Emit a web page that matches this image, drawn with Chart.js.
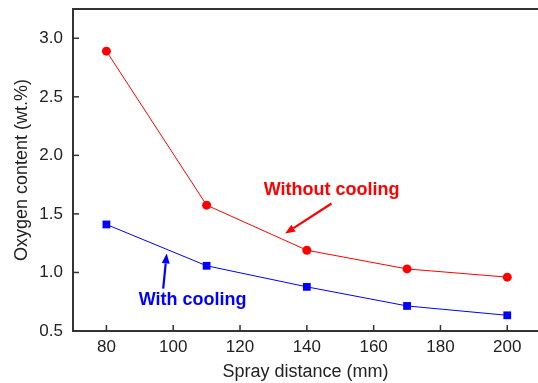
<!DOCTYPE html>
<html>
<head>
<meta charset="utf-8">
<script src="https://cdn.jsdelivr.net/npm/chart.js@4"></script>
<style>
  html, body { margin: 0; padding: 0; background: #fff; overflow: hidden; }
  #wrap { width: 538px; height: 383px; }
</style>
</head>
<body>
<div id="wrap"><canvas id="myChart" width="538" height="383"></canvas></div>
<script>
const sprayDistance = [80, 110, 140, 170, 200]
const withoutCooling = [2.89, 1.575, 1.19, 1.03, 0.96]
const withCooling = [1.41, 1.057, 0.877, 0.714, 0.634]
const xTicks = [80, 100, 120, 140, 160, 180, 200]
const yTicks = [0.5, 1.0, 1.5, 2.0, 2.5, 3.0]

const FONT = "'Liberation Sans', Arial, sans-serif"

// text labels with arrows, given in data units
const notes = [
  { text: 'Without cooling', color: '#ff0000', x: 147.4, y: 1.70, from: [147.4, 1.589], to: [133.5, 1.332] },
  { text: 'With cooling', color: '#0000ff', x: 105.8, y: 0.768, from: [97.0, 0.862], to: [98.05, 1.162] }
]

const framePlugin = {
  id: 'frame',
  afterDraw(chart) {
    const ctx = chart.ctx
    const area = chart.chartArea
    const xs = chart.scales.x
    const ys = chart.scales.y
    ctx.save()
    ctx.strokeStyle = '#333'
    ctx.lineWidth = 2
    // top line
    ctx.beginPath()
    ctx.moveTo(area.left, area.top)
    ctx.lineTo(area.right, area.top)
    ctx.stroke()
    // inward ticks
    ctx.lineWidth = 1.5
    xTicks.forEach(v => {
      const px = xs.getPixelForValue(v)
      ctx.beginPath()
      ctx.moveTo(px, area.bottom)
      ctx.lineTo(px, area.bottom - 6)
      ctx.stroke()
    })
    yTicks.forEach(v => {
      const py = ys.getPixelForValue(v)
      ctx.beginPath()
      ctx.moveTo(area.left, py)
      ctx.lineTo(area.left + 6, py)
      ctx.stroke()
    })
    // notes
    notes.forEach(n => {
      ctx.fillStyle = n.color
      ctx.strokeStyle = n.color
      ctx.font = 'bold 18px ' + FONT
      ctx.textAlign = 'center'
      ctx.textBaseline = 'middle'
      ctx.fillText(n.text, xs.getPixelForValue(n.x), ys.getPixelForValue(n.y))
      const x1 = xs.getPixelForValue(n.from[0]), y1 = ys.getPixelForValue(n.from[1])
      const x2 = xs.getPixelForValue(n.to[0]), y2 = ys.getPixelForValue(n.to[1])
      const ang = Math.atan2(y2 - y1, x2 - x1)
      const hl = 10, hw = 4
      const bx = x2 - hl * Math.cos(ang), by = y2 - hl * Math.sin(ang)
      ctx.lineWidth = 2.2
      ctx.beginPath()
      ctx.moveTo(x1, y1)
      ctx.lineTo(bx, by)
      ctx.stroke()
      ctx.beginPath()
      ctx.moveTo(x2, y2)
      ctx.lineTo(bx + hw * Math.sin(ang), by - hw * Math.cos(ang))
      ctx.lineTo(bx - hw * Math.sin(ang), by + hw * Math.cos(ang))
      ctx.closePath()
      ctx.fill()
    })
    ctx.restore()
  }
}

const ctx = document.getElementById('myChart').getContext('2d')
const myChart = new Chart(ctx, {
  type: 'line',
  data: {
    labels: sprayDistance,
    datasets: [{
      label: 'Without cooling',
      data: sprayDistance.map((x, i) => ({ x: x, y: withoutCooling[i] })),
      borderColor: '#ff0000',
      backgroundColor: '#ff0000',
      borderWidth: 1,
      pointStyle: 'circle',
      pointRadius: 4.5,
      pointBorderWidth: 0,
      tension: 0
    }, {
      label: 'With cooling',
      data: sprayDistance.map((x, i) => ({ x: x, y: withCooling[i] })),
      borderColor: '#0000ff',
      backgroundColor: '#0000ff',
      borderWidth: 1,
      pointStyle: 'rect',
      pointRadius: 5.5,
      pointBorderWidth: 0,
      tension: 0
    }]
  },
  options: {
    responsive: false,
    animation: false,
    layout: { autoPadding: false, padding: { top: 9, left: 0, right: 0, bottom: 0 } },
    plugins: {
      legend: { display: false },
      tooltip: { enabled: false }
    },
    scales: {
      x: {
        type: 'linear',
        min: 70,
        max: 209.2,
        afterBuildTicks: scale => { scale.ticks = xTicks.map(v => ({ value: v })) },
        afterFit: scale => { scale.height = 52; scale.paddingLeft = 0; scale.paddingRight = 0 },
        grid: { display: false, drawTicks: false },
        border: { color: '#333', width: 2 },
        ticks: {
          color: '#222',
          padding: 6,
          maxRotation: 0,
          font: { family: FONT, size: 17 }
        },
        title: {
          display: true,
          text: 'Spray distance (mm)',
          color: '#222',
          font: { family: FONT, size: 18 },
          padding: { top: 4, bottom: 0 }
        }
      },
      y: {
        min: 0.5,
        max: 3.25,
        afterBuildTicks: scale => { scale.ticks = yTicks.map(v => ({ value: v })) },
        afterFit: scale => { scale.width = 73; scale.paddingTop = 0; scale.paddingBottom = 0 },
        grid: { display: false, drawTicks: false },
        border: { color: '#333', width: 2 },
        ticks: {
          color: '#222',
          padding: 10,
          font: { family: FONT, size: 17 },
          callback: v => v.toFixed(1)
        },
        title: {
          display: true,
          text: 'Oxygen content (wt.%)',
          color: '#222',
          font: { family: FONT, size: 18 },
          padding: { top: 11, bottom: 0 }
        }
      }
    }
  },
  plugins: [framePlugin]
})
</script>
</body>
</html>
